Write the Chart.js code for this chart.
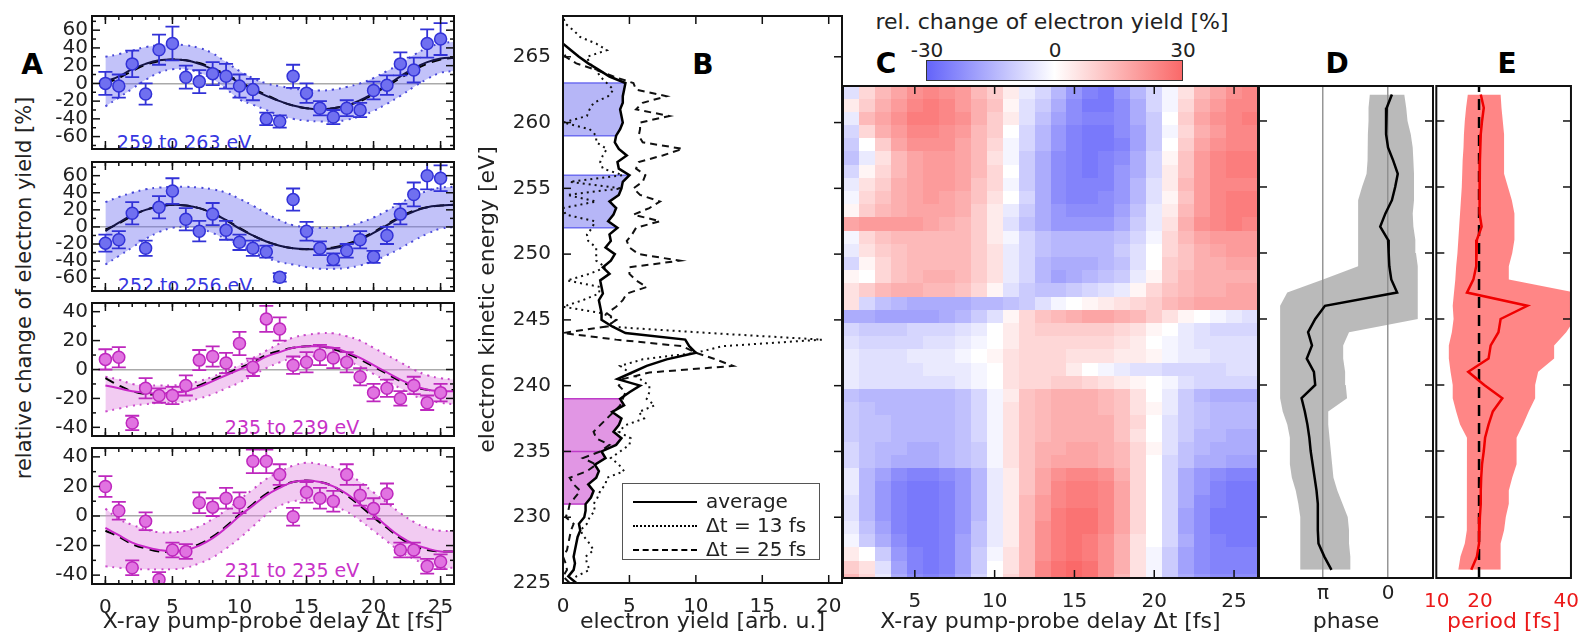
<!DOCTYPE html>
<html>
<head>
<meta charset="utf-8">
<script src="https://cdn.jsdelivr.net/npm/chart.js@4.4.1/dist/chart.umd.min.js"></script>
<style>
body { margin:0; background:#fff; width:1583px; height:635px; position:relative; overflow:hidden; font-family:'DejaVu Sans', sans-serif; color:#222; }
canvas { position:absolute; }
.t { position:absolute; transform:translate(-50%,-50%); white-space:nowrap; line-height:1; }
.big { font-weight:bold; font-size:28px; color:#000; }
.lg { position:absolute; left:622px; top:483px; width:196px; height:75px; border:1.5px solid #555; background:#fff; font-size:20px; }
.lg div { position:absolute; left:10px; height:0; width:64px; border-top:2.5px solid #000; }
.lg span { position:absolute; left:83px; }
</style>
</head>
<body>
<div class="t big" style="left:32px;top:65px">A</div>
<div class="t big" style="left:703px;top:65px">B</div>
<div class="t big" style="left:886px;top:64px">C</div>
<div class="t big" style="left:1337px;top:64px">D</div>
<div class="t big" style="left:1507px;top:64px">E</div>
<div class="t" style="left:24px;top:288px;font-size:21px;transform:translate(-50%,-50%) rotate(-90deg)">relative change of electron yield [%]</div>
<div class="t" style="left:184px;top:142px;font-size:19px;color:rgb(55,55,225)">259 to 263 eV</div>
<div class="t" style="left:185px;top:285px;font-size:19px;color:rgb(55,55,225)">252 to 256 eV</div>
<div class="t" style="left:292px;top:427px;font-size:19px;color:rgb(200,50,200)">235 to 239 eV</div>
<div class="t" style="left:292px;top:570px;font-size:19px;color:rgb(200,50,200)">231 to 235 eV</div>
<div class="t" style="left:1052px;top:22px;font-size:22px">rel. change of electron yield [%]</div>
<div class="t" style="left:927px;top:50px;font-size:20px">-30</div>
<div class="t" style="left:1055px;top:50px;font-size:20px">0</div>
<div class="t" style="left:1183px;top:50px;font-size:20px">30</div>
<div style="position:absolute;left:926px;top:60px;width:255px;height:19px;border:1.5px solid #333;background:linear-gradient(to right,rgb(100,100,250),#fff,rgb(250,105,105))"></div>

<script>
// ---- panel A : relative change vs delay ----
const delayA = [0,1,2,3,4,5,6,7,8,9,10,11,12,13,14,15,16,17,18,19,20,21,22,23,24,25];
const fitT = [0,1,2,3,4,5,6,7,8,9,10,11,12,13,14,15,16,17,18,19,20,21,22,23,24,25,26];

const a1Val = [0,-3,22,-12,38,45,7,2,11,8,-3,-7,-40,-43,8,-11,-28,-38,-28,-30,-8,-2,22,15,45,50];
const a1Err = [13,13,15,12,17,19,13,13,13,14,13,12,7,7,13,11,8,8,9,8,10,11,13,14,16,18];
const a1Fit = [2,8,16,22,26,27,26,22,16,9,1,-7,-14,-20,-25,-28,-29,-28,-25,-19,-11,-2,8,17,24,28,29];
const a1Fit2 = [0,6,14,21,25,27,26,23,17,10,2,-6,-13,-20,-25,-28,-29,-28,-25,-20,-12,-3,6,15,22,27,29];
const a1Hi = [30,33,37,41,43,44,43,40,34,24,14,6,0,-3,-6,-7,-8,-7,-4,0,6,14,22,32,40,45,47];
const a1Lo = [-26,-16,-6,4,12,16,16,12,5,-6,-18,-24,-30,-36,-40,-42,-43,-43,-41,-37,-31,-23,-14,-4,5,12,14];

const a2Val = [-19,-15,16,-25,23,42,9,-5,15,-4,-18,-25,-29,-59,32,-5,-25,-38,-28,-15,-35,-10,15,38,60,57];
const a2Err = [10,10,13,9,13,15,13,12,13,11,9,9,7,5,13,11,8,7,8,10,7,10,12,14,16,15];
const a2Fit = [-5,5,14,20,24,26,25,22,16,8,-2,-10,-17,-22,-25,-26,-26,-25,-21,-15,-7,2,11,18,23,25,26];
const a2Fit2 = [-3,4,13,20,24,26,25,22,16,8,-1,-10,-17,-22,-25,-26,-25,-24,-20,-14,-6,3,12,19,23,25,26];
const a2Hi = [29,35,40,44,46,47,47,46,44,40,33,25,16,8,2,0,-1,-1,1,5,11,19,28,36,42,46,47];
const a2Lo = [-44,-34,-24,-14,-6,-1,0,-2,-7,-14,-21,-29,-36,-41,-44,-47,-49,-49,-48,-45,-40,-33,-25,-16,-8,-2,0];

const a3Val = [7,8.5,-37,-13,-18,-18,-11,6.5,9,4.5,18,1.5,35,28,3,5,10,8,5,-5,-16,-13,-20,-11,-23,-16];
const a3Err = [7,7,5,7,5,6,7,7,7,7,8,6,9,8,6,7,7,7,7,6,6,6,5,6,5,6];
const a3Fit = [-11,-13,-15,-16,-17,-16,-15,-12,-8,-4,0,4,9,12,15,16,16,15,12,8,3,-2,-7,-11,-14,-15,-15];
const a3Fit2 = [-6,-11,-15,-17,-17,-16,-14,-11,-7,-3,1,5,10,13,15,16,16,14,11,7,2,-3,-8,-12,-14,-15,-14];
const a3Hi = [-5,-7,-10,-11,-11,-11,-10,-8,-5,-1,3,8,13,18,22,24,25,25,23,20,15,10,5,0,-4,-6,-7];
const a3Lo = [-29,-27,-25,-24,-23,-23,-22,-20,-17,-13,-9,-4,1,5,8,9,9,8,6,2,-3,-8,-13,-18,-21,-23,-24];

const a4Val = [20,3.5,-35,-3.5,-43,-23,-24,9,6,12,9,37,37,28,-0.5,16,12,10,28,14,5,15,-23,-23,-34,-31];
const a4Err = [7,6,5,6,5,5,5,7,6,7,7,8,8,7,6,7,7,7,7,7,7,7,5,5,5,5];
const a4Fit = [-8,-13,-18,-21,-23,-24,-23,-20,-15,-8,0,7,14,19,23,24,23,20,15,8,1,-7,-14,-19,-22,-24,-24];
const a4Fit2 = [-10,-14,-19,-22,-24,-24,-22,-19,-14,-7,1,8,15,20,23,24,23,20,14,7,-1,-8,-15,-20,-23,-24,-24];
const a4Hi = [5,-2,-6,-9,-11,-11,-10,-7,-2,4,11,18,25,30,34,36,35,33,29,23,16,9,2,-4,-8,-10,-10];
const a4Lo = [-34,-35,-36,-36,-36,-36,-35,-32,-28,-22,-15,-7,1,7,10,11,10,7,3,-3,-10,-17,-24,-29,-33,-35,-35];

const tickAx = [0,5,10,15,20,25];
const minorAx = [0,1,2,3,4,5,6,7,8,9,10,11,12,13,14,15,16,17,18,19,20,21,22,23,24,25,26];
const tickA12 = [-60,-40,-20,0,20,40,60];
const minorA12 = [-70,-50,-30,-10,10,30,50,70];
const tickA34 = [-40,-20,0,20,40];
const minorA34 = [-30,-10,10,30];

// ---- panel B : spectra ----
const eB = [225,225.5,226,226.5,227,227.5,228,228.5,229,229.5,230,230.5,231,231.5,232,232.5,233,233.5,234,234.5,235,235.5,236,236.5,237,237.5,238,238.5,239,239.5,240,240.5,241,241.5,242,242.5,243,243.5,244,244.5,245,245.5,246,246.5,247,247.5,248,248.5,249,249.5,250,250.5,251,251.5,252,252.5,253,253.5,254,254.5,255,255.5,256,256.5,257,257.5,258,258.5,259,259.5,260,260.5,261,261.5,262,262.5,263,263.5,264,264.5,265,265.5,266,266.5,267,267.5,268];
const avgB = [1.0,0.4,0.8,0.9,0.8,0.9,1.0,1.1,1.3,1.2,
  1.6,1.7,1.7,2.1,2.3,1.9,2.5,2.7,2.4,3.2,
  2.9,4.0,4.4,3.8,4.2,4.4,3.7,4.6,4.3,5.0,
  5.8,4.1,5.2,6.3,7.8,10.0,9.5,9.2,4.7,3.7,
  2.9,2.9,2.8,2.7,3.0,2.9,2.8,3.5,3.0,3.6,
  3.9,3.2,3.6,3.5,4.1,3.4,3.8,4.0,3.5,4.2,
  4.4,4.5,5.0,4.2,4.1,4.8,4.2,3.9,4.0,4.3,
  4.5,4.4,4.3,4.5,4.5,4.6,4.7,3.5,2.7,1.9,
  1.2,0.6,0,null,null,null,null];
const d13B = [0.8,1.0,2.0,1.8,1.7,2.3,2.0,1.6,1.3,1.8,
  2.0,2.4,2.3,2.6,2.8,3.2,3.3,4.6,4.2,3.6,
  4.3,5.0,5.1,4.2,4.7,6.1,5.7,6.9,6.3,6.5,
  6.5,5.8,5.0,4.3,6.0,10.0,12.0,19.5,11.0,3.3,
  4.0,3.0,0.0,1.5,2.7,2.8,0.3,2.0,3.2,2.5,
  2.5,2.5,1.9,1.8,2.2,2.4,0.2,0.0,2.5,0.3,
  4.4,0.5,4.5,3.0,2.8,3.0,3.3,2.5,2.5,2.0,
  0.0,1.8,2.0,2.3,3.4,3.8,3.3,2.8,2.5,2.0,
  1.8,3.3,2.5,1.3,0.8,0.2,0.0];
const d25B = [0.5,0.0,0.3,0.2,0.0,0.3,0.4,0.5,0.6,0.8,
  0.2,0.4,0.5,0.9,1.3,0.8,0.5,1.8,2.5,1.5,
  2.8,3.5,2.5,2.3,2.8,3.3,3.8,4.3,4.5,4.7,
  4.2,4.5,6.5,12.8,11.5,10.0,9.0,4.0,0.0,3.3,
  4.0,3.3,4.0,4.5,4.8,6.3,5.5,5.0,5.0,8.8,
  5.7,5.0,4.8,5.2,5.5,7.3,5.3,6.5,7.3,5.8,
  5.3,6.0,6.2,5.5,5.7,7.5,9.0,6.0,5.7,5.8,
  5.8,8.0,5.5,6.0,7.8,5.5,5.3,3.8,2.5,1.0,
  0.2,0.0,null,null,null,null,null];
const bandLoB = [259,252,231];
const bandHiB = [263,256,239];
const bandSplitB = [235];
const tickBx = [0,5,10,15,20];
const tickBy = [225,230,235,240,245,250,255,260,265];

// ---- panel C : map of relative change (rows top to bottom) ----
const heatDelay = [1,2,3,4,5,6,7,8,9,10,11,12,13,14,15,16,17,18,19,20,21,22,23,24,25,26];
const heatE = [262.2,261.2,260.2,259.2,258.2,257.2,256.2,255.2,254.2,253.2,252.2,251.2,250.2,249.2,248.2,247.2,246.2,245.2,244.2,243.2,242.2,241.2,240.2,239.2,238.2,237.2,236.2,235.2,234.2,233.2,232.2,231.2,230.2,229.2,228.2,227.2,226.2,225.2];
const heatRows = [
  [-6,8,14,18,22,24,22,20,14,10,4,-4,-8,-14,-20,-24,-26,-20,-14,-8,-2,6,14,18,22,24],
  [4,10,16,20,24,26,24,20,16,12,2,-6,-10,-16,-22,-26,-26,-22,-16,-8,-2,8,16,20,24,24],
  [-4,14,18,22,26,26,24,22,16,10,4,-6,-12,-18,-22,-24,-24,-22,-16,-10,0,10,18,22,24,26],
  [-8,8,16,20,24,24,22,20,14,10,0,-8,-14,-20,-24,-26,-26,-22,-18,-10,-2,8,16,20,24,24],
  [-10,0,10,18,22,22,22,18,14,8,-2,-8,-14,-20,-24,-26,-26,-24,-18,-10,0,10,18,22,24,24],
  [-12,-4,6,14,18,20,20,18,14,6,-2,-10,-16,-22,-24,-26,-24,-22,-16,-8,2,12,20,24,26,26],
  [-8,2,8,14,18,20,20,18,14,8,0,-10,-16,-22,-24,-26,-24,-20,-16,-8,4,12,20,24,26,26],
  [-4,6,10,16,18,20,20,18,12,8,-2,-10,-16,-22,-24,-24,-24,-20,-14,-6,4,14,20,24,24,24],
  [-2,8,12,16,18,20,18,16,12,6,0,-8,-16,-22,-24,-24,-22,-20,-14,-6,2,12,20,24,26,26],
  [2,10,14,16,18,18,18,16,10,4,-4,-10,-16,-20,-22,-22,-22,-18,-12,-4,4,14,20,24,26,26],
  [18,20,20,20,20,18,16,14,10,4,-6,-12,-16,-20,-20,-20,-20,-16,-10,-4,6,16,22,24,26,24],
  [-2,8,12,14,14,14,14,14,10,4,-2,-8,-12,-14,-14,-14,-14,-12,-8,-2,8,14,18,20,20,20],
  [-4,6,10,12,14,14,14,14,10,6,-4,-8,-12,-14,-14,-14,-14,-10,-6,0,8,12,16,18,20,20],
  [-8,2,8,12,14,14,14,14,10,6,-4,-8,-14,-16,-16,-16,-14,-12,-6,0,10,12,16,16,18,18],
  [2,0,8,12,14,16,16,14,10,6,-4,-8,-14,-18,-16,-14,-12,-10,-4,2,10,14,16,16,16,16],
  [6,10,14,16,16,14,14,12,8,2,-6,-10,-12,-12,-10,-8,-6,-4,2,8,12,14,16,16,18,18],
  [6,-8,-12,-14,-16,-16,-16,-16,-14,-14,-12,-10,-6,-2,0,2,4,6,8,10,14,16,18,18,18,18],
  [-16,-16,-18,-18,-18,-18,-16,-14,-10,-6,2,8,12,14,16,18,18,16,14,10,6,2,0,-2,-4,-6],
  [-8,-10,-10,-10,-8,-8,-8,-6,-4,0,4,8,10,10,10,10,10,8,6,2,0,-4,-6,-8,-8,-8],
  [-6,-8,-8,-8,-8,-6,-6,-4,-2,0,4,8,8,8,8,8,8,6,4,0,-2,-4,-6,-6,-6,-6],
  [-4,-6,-6,-6,-4,-4,-4,-2,0,2,6,8,8,8,6,6,6,4,4,2,-2,-4,-4,-6,-6,-6],
  [-4,-6,-6,-6,-6,-4,-4,-4,-2,0,6,8,8,8,4,0,-2,-4,-6,-6,-8,-8,-8,-8,-6,-6],
  [-4,-6,-6,-6,-6,-6,-6,-4,-2,0,6,8,8,10,10,8,6,4,2,0,-2,-6,-8,-8,-8,-8],
  [-12,-14,-14,-14,-14,-14,-14,-12,-8,-2,4,12,14,16,16,16,14,12,6,0,-4,-10,-14,-16,-16,-16],
  [-10,-12,-14,-14,-14,-14,-14,-12,-8,-2,6,12,14,16,16,16,14,12,6,2,-4,-10,-12,-14,-14,-14],
  [-10,-12,-12,-14,-14,-14,-14,-12,-8,-2,6,12,14,16,16,16,16,12,8,0,-6,-10,-12,-14,-14,-14],
  [-10,-12,-12,-14,-14,-14,-14,-12,-8,-2,6,12,14,16,16,16,16,12,6,0,-6,-10,-14,-14,-16,-16],
  [-8,-12,-14,-14,-16,-16,-14,-12,-10,-2,6,12,16,16,18,18,16,14,8,2,-6,-12,-14,-16,-16,-16],
  [-8,-12,-14,-16,-16,-16,-14,-12,-10,-2,6,12,16,18,18,18,16,14,8,0,-8,-12,-16,-16,-18,-18],
  [-4,-14,-18,-22,-24,-24,-22,-20,-14,-4,4,12,18,22,24,24,22,16,8,0,-8,-16,-20,-22,-24,-24],
  [-4,-14,-20,-24,-26,-26,-24,-20,-14,-4,4,12,18,24,26,26,24,18,8,0,-8,-16,-20,-24,-26,-26],
  [-6,-14,-20,-24,-26,-26,-24,-20,-14,-4,4,14,20,24,26,26,24,18,8,0,-8,-16,-22,-24,-26,-26],
  [-6,-14,-20,-24,-26,-26,-24,-20,-14,-4,4,14,20,26,28,28,24,18,8,0,-8,-18,-22,-26,-26,-26],
  [-4,-12,-18,-24,-26,-26,-24,-20,-12,-4,4,14,22,26,28,28,24,18,8,0,-8,-18,-22,-26,-26,-26],
  [-2,-10,-16,-22,-26,-26,-24,-18,-12,-4,4,14,22,26,28,26,22,16,6,0,-8,-16,-22,-24,-26,-26],
  [4,0,-10,-20,-24,-26,-24,-18,-10,-2,6,14,22,26,28,26,22,16,6,-2,-10,-18,-22,-24,-24,-24],
  [10,6,-6,-18,-24,-26,-24,-18,-10,0,6,14,24,28,30,28,22,16,6,-2,-10,-18,-22,-24,-24,-24],
  [14,8,-4,-16,-22,-24,-22,-16,-8,0,8,14,24,28,30,28,22,14,6,-2,-10,-16,-20,-22,-22,-22]
];
const tickC = [5,10,15,20,25];

// ---- panels D and E : phase and period per energy ----
const eDE = [262,261,260,259,258,257,256,255,254,253,252,251,250,249,248,247,246,245,244,243,242,241,240,239,238,237,236,235,234,233,232,231,230,229,228,227,226];
const phaseD = [-0.06,0.02,0.03,0.03,0.0,-0.08,-0.15,-0.11,-0.06,0.04,0.12,0.0,-0.01,-0.02,-0.05,-0.14,0.97,1.12,1.23,1.17,1.25,1.14,1.12,1.33,1.28,1.24,1.21,1.19,1.16,1.13,1.1,1.08,1.08,1.08,1.07,0.98,0.87];
const phaseHiD = [0.28,0.3,0.3,0.31,0.31,0.32,0.33,0.4,0.46,0.46,0.46,0.46,0.46,0.46,1.0,1.55,1.66,1.66,1.66,1.66,1.66,1.66,1.66,1.66,1.62,1.55,1.51,1.51,1.51,1.48,1.42,1.38,1.35,1.35,1.35,1.35,1.35];
const phaseLoD = [-0.25,-0.28,-0.3,-0.35,-0.38,-0.39,-0.4,-0.4,-0.4,-0.38,-0.39,-0.42,-0.43,-0.45,-0.46,-0.46,-0.46,-0.46,0.6,0.69,0.69,0.66,0.65,0.63,0.92,0.92,0.9,0.88,0.86,0.84,0.78,0.7,0.62,0.6,0.6,0.58,0.58];
const phaseTicks = [1,0];
const phaseTickLabels = ['π','0'];
const periodE = [20.2,20.9,20.5,20.2,20.1,20.0,20.0,19.9,19.8,20.0,20.4,19.3,19.2,19.1,18.5,17.0,31.0,24.8,24.3,22.5,22.0,17.3,21.0,25.2,23.0,22.0,21.2,20.9,20.5,20.3,20.2,20.2,20.0,19.8,19.8,19.3,18.0];
const periodLoE = [17.2,16.8,16.5,16.3,16.2,16.0,15.9,15.8,15.6,15.4,15.2,15.0,14.8,14.5,14.3,14.0,13.7,13.9,13.5,12.8,12.8,13.2,13.7,13.7,14.5,15.4,17.0,17.0,17.0,17.0,17.0,17.0,17.0,16.8,16.5,15.5,15.0];
const periodHiE = [24.8,25.0,25.3,25.6,25.6,25.6,25.6,26.5,27.4,28.0,28.0,28.0,27.5,26.7,26.7,42,42,42,40,37.2,37.2,33.5,32.8,32.8,31.3,30.0,28.5,28.5,28.5,27.5,26.7,26.7,26.0,25.6,24.8,24.8,24.8];
const periodRef = 19.8;
const tickE = [10,20,40];
const tickDEy = [230,235,240,245,250,255,260];

// ---------------------------------------------------------------
Chart.defaults.font.family = "'DejaVu Sans', sans-serif";
Chart.defaults.font.size = 20;
Chart.defaults.color = '#222';

// inward ticks + black frame round each plot
const frameTicks = {
  id: 'frameTicks',
  afterDatasetsDraw(chart, args, o) {
    const {ctx, chartArea: a} = chart;
    const xs = chart.scales.x, ys = chart.scales.y;
    ctx.save();
    ctx.strokeStyle = '#111';
    ctx.lineWidth = 1.5;
    const side = (vals, len, s) => {
      (vals || []).forEach(v => {
        ctx.beginPath();
        if (s === 'top' || s === 'bottom') {
          const p = xs.getPixelForValue(v);
          if (p < a.left + 1 || p > a.right - 1) return;
          const y0 = s === 'top' ? a.top : a.bottom;
          ctx.moveTo(p, y0); ctx.lineTo(p, y0 + (s === 'top' ? len : -len));
        } else {
          const p = ys.getPixelForValue(v);
          if (p < a.top + 1 || p > a.bottom - 1) return;
          const x0 = s === 'left' ? a.left : a.right;
          ctx.moveTo(x0, p); ctx.lineTo(x0 + (s === 'left' ? len : -len), p);
        }
        ctx.stroke();
      });
    };
    ['top', 'bottom', 'left', 'right'].forEach(s => { side(o[s], 8, s); side(o[s + 'Minor'], 4, s); });
    ctx.lineWidth = 2;
    ctx.strokeRect(a.left, a.top, a.width, a.height);
    ctx.restore();
  }
};

// error bars of a dataset, drawn just below its points
const errorBars = {
  id: 'errorBars',
  beforeDatasetDraw(chart, args) {
    const ds = chart.data.datasets[args.index];
    if (!ds.err) return;
    const {ctx, chartArea: a} = chart;
    const y = chart.scales.y;
    ctx.save();
    ctx.beginPath(); ctx.rect(a.left, a.top, a.width, a.height); ctx.clip();
    ctx.strokeStyle = ds.errColor;
    ctx.lineWidth = 1.8;
    args.meta.data.forEach((pt, i) => {
      const v = ds.data[i].y, e = ds.err[i];
      const y0 = y.getPixelForValue(v + e), y1 = y.getPixelForValue(v - e);
      ctx.beginPath();
      ctx.moveTo(pt.x, y0); ctx.lineTo(pt.x, y1);
      ctx.moveTo(pt.x - 7, y0); ctx.lineTo(pt.x + 7, y0);
      ctx.moveTo(pt.x - 7, y1); ctx.lineTo(pt.x + 7, y1);
      ctx.stroke();
    });
    ctx.restore();
  }
};
Chart.register(frameTicks, errorBars);

function heatColor(v) {
  const f = Math.min(Math.abs(v) / 30, 1);
  if (v < 0) return 'rgb(' + Math.round(255 - 155 * f) + ',' + Math.round(255 - 155 * f) + ',' + Math.round(255 - 5 * f) + ')';
  return 'rgb(' + Math.round(255 - 5 * f) + ',' + Math.round(255 - 150 * f) + ',' + Math.round(255 - 150 * f) + ')';
}

function mk(box) {
  const c = document.createElement('canvas');
  c.width = box[2]; c.height = box[3];
  c.style.left = box[0] + 'px'; c.style.top = box[1] + 'px';
  document.body.appendChild(c);
  return c;
}
const setTicks = vals => s => { s.ticks = vals.map(v => ({value: v})); };

// box = canvas [left, top, width, height], area = plot [left, top, right, bottom]
function fixAxes(opts, box, area) {
  opts.layout = {padding: {left: 0, top: area[1] - box[1], right: box[0] + box[2] - area[2], bottom: 0}};
  opts.scales.y.afterFit = s => { s.width = area[0] - box[0]; };
  opts.scales.x.afterFit = s => { s.height = box[1] + box[3] - area[3]; };
  return opts;
}
function base() {
  return {responsive: false, animation: false, events: [], plugins: {legend: {display: false}, tooltip: {enabled: false}}};
}

// ---------------- panel A ----------------
const blue = {pt: 'rgb(112,112,240)', edge: 'rgb(50,50,215)', band: 'rgba(110,110,240,0.42)', dot: 'rgb(70,70,215)', fit: 'rgb(20,20,70)'};
const mag = {pt: 'rgb(225,115,225)', edge: 'rgb(190,40,190)', band: 'rgba(225,130,225,0.42)', dot: 'rgb(200,70,200)', fit: 'rgb(200,40,200)'};
const panelsA = [
  {val: a1Val, err: a1Err, fit: a1Fit, fit2: a1Fit2, hi: a1Hi, lo: a1Lo, col: blue, yr: [-74, 76], yt: tickA12, ym: minorA12, box: [0, 0, 470, 165], area: [92, 13, 454, 155]},
  {val: a2Val, err: a2Err, fit: a2Fit, fit2: a2Fit2, hi: a2Hi, lo: a2Lo, col: blue, yr: [-75, 76], yt: tickA12, ym: minorA12, box: [0, 146, 470, 161], area: [92, 156, 454, 297]},
  {val: a3Val, err: a3Err, fit: a3Fit, fit2: a3Fit2, hi: a3Hi, lo: a3Lo, col: mag, yr: [-46, 46], yt: tickA34, ym: minorA34, box: [0, 287, 470, 165], area: [92, 297, 454, 442]},
  {val: a4Val, err: a4Err, fit: a4Fit, fit2: a4Fit2, hi: a4Hi, lo: a4Lo, col: mag, yr: [-46, 46], yt: tickA34, ym: minorA34, box: [0, 432, 470, 203], area: [92, 442, 454, 584], last: true}
];
panelsA.forEach(p => {
  const curve = arr => fitT.map((t, i) => ({x: t, y: arr[i]}));
  const opts = base();
  opts.plugins.frameTicks = {top: tickAx, bottom: tickAx, topMinor: minorAx, bottomMinor: minorAx, left: p.yt, right: p.yt, leftMinor: p.ym, rightMinor: p.ym};
  opts.scales = {
    x: {type: 'linear', min: -1, max: 26, grid: {display: false}, border: {display: false},
      afterBuildTicks: setTicks(tickAx),
      ticks: {display: !!p.last, autoSkip: false, maxRotation: 0, padding: 4, callback: v => String(v)},
      title: {display: !!p.last, text: 'X-ray pump-probe delay Δt [fs]', font: {size: 22}, padding: {top: 0, bottom: 0}}},
    y: {type: 'linear', min: p.yr[0], max: p.yr[1], border: {display: false},
      grid: {drawTicks: false, lineWidth: 1.5, color: c => (c.tick && c.tick.value === 0) ? 'rgb(170,170,170)' : 'rgba(0,0,0,0)'},
      afterBuildTicks: setTicks(p.yt),
      ticks: {autoSkip: false, padding: 4, callback: v => String(v)}}
  };
  fixAxes(opts, p.box, p.area);
  new Chart(mk(p.box), {
    type: 'line',
    data: {datasets: [
      {data: delayA.map((t, i) => ({x: t, y: p.val[i]})), err: p.err, errColor: p.col.edge, showLine: false,
        pointRadius: 6, pointBackgroundColor: p.col.pt, pointBorderColor: p.col.edge, pointBorderWidth: 1.5, order: 0},
      {data: curve(p.fit), borderColor: p.col.fit, borderWidth: 2, pointRadius: 0, tension: 0.4, order: 1},
      {data: curve(p.fit2), borderColor: '#000', borderWidth: 2, borderDash: [10, 6], pointRadius: 0, tension: 0.4, order: 1},
      {data: curve(p.hi), borderColor: p.col.dot, borderWidth: 2, borderDash: [2, 5], pointRadius: 0, tension: 0.4,
        fill: '+1', backgroundColor: p.col.band, order: 2},
      {data: curve(p.lo), borderColor: p.col.dot, borderWidth: 2, borderDash: [2, 5], pointRadius: 0, tension: 0.4, fill: false, order: 2}
    ]},
    options: opts
  });
});

// ---------------- panel B ----------------
(function () {
  const box = [470, 0, 380, 635], area = [563, 14, 842, 583];
  const line = arr => eB.map((e, i) => ({x: arr[i], y: e}));
  const avgAt = e => avgB[eB.indexOf(e)];
  const bandCol = ['rgba(110,110,240,0.5)', 'rgba(110,110,240,0.5)', 'rgba(205,80,210,0.6)'];
  const edgeCol = ['rgb(110,110,240)', 'rgb(110,110,240)', 'rgb(190,60,200)'];
  const fills = bandLoB.map((lo, k) => ({
    data: line(avgB).filter(pt => pt.y >= lo && pt.y <= bandHiB[k]),
    fill: 'origin', backgroundColor: bandCol[k], borderColor: 'rgba(0,0,0,0)', borderWidth: 0, pointRadius: 0, order: 3
  }));
  // thin lines along the band edges, from the axis to the average curve
  const edge = (e, c) => ({data: [{x: 0, y: e}, {x: avgAt(e), y: e}], borderColor: c, borderWidth: 1.5, pointRadius: 0, order: 2});
  const edges = [];
  bandLoB.forEach((lo, k) => { edges.push(edge(lo, edgeCol[k])); edges.push(edge(bandHiB[k], edgeCol[k])); });
  bandSplitB.forEach(e => edges.push(edge(e, edgeCol[2])));
  const opts = base();
  opts.indexAxis = 'y';
  opts.plugins.frameTicks = {top: tickBx, bottom: tickBx, left: tickBy, right: tickBy};
  opts.scales = {
    x: {type: 'linear', min: 0, max: 21, grid: {display: false}, border: {display: false},
      afterBuildTicks: setTicks(tickBx),
      ticks: {autoSkip: false, maxRotation: 0, padding: 4, callback: v => String(v)},
      title: {display: true, text: 'electron yield [arb. u.]', font: {size: 22}, padding: {top: 0, bottom: 0}}},
    y: {type: 'linear', min: 225, max: 268.1, grid: {display: false}, border: {display: false},
      afterBuildTicks: setTicks(tickBy),
      ticks: {autoSkip: false, padding: 4, callback: v => String(v)},
      title: {display: true, text: 'electron kinetic energy [eV]', font: {size: 22}, padding: {top: 5, bottom: 0}}}
  };
  fixAxes(opts, box, area);
  new Chart(mk(box), {
    type: 'line',
    data: {datasets: [
      {data: line(avgB), borderColor: '#000', borderWidth: 2.5, pointRadius: 0, order: 0},
      {data: line(d13B), borderColor: '#111', borderWidth: 2, borderDash: [2, 4], pointRadius: 0, order: 1},
      {data: line(d25B), borderColor: '#111', borderWidth: 2, borderDash: [7, 5], pointRadius: 0, order: 1}
    ].concat(edges, fills)},
    options: opts
  });
})();

// ---------------- panel C ----------------
(function () {
  const box = [835, 80, 430, 555], area = [843, 86, 1258, 578];
  const heat = {
    id: 'heat',
    beforeDatasetsDraw(chart) {
      const {ctx, chartArea: a, scales: {x, y}} = chart;
      ctx.save();
      ctx.beginPath(); ctx.rect(a.left, a.top, a.width, a.height); ctx.clip();
      heatRows.forEach((row, r) => {
        const y0 = Math.round(y.getPixelForValue(heatE[r] + 0.5));
        const y1 = Math.round(y.getPixelForValue(heatE[r] - 0.5));
        row.forEach((v, c) => {
          const x0 = Math.round(x.getPixelForValue(heatDelay[c] - 0.5));
          const x1 = Math.round(x.getPixelForValue(heatDelay[c] + 0.5));
          ctx.fillStyle = heatColor(v);
          ctx.fillRect(x0, y0, x1 - x0, y1 - y0);
        });
      });
      ctx.restore();
    }
  };
  const opts = base();
  opts.plugins.frameTicks = {top: tickC, bottom: tickC};
  opts.scales = {
    x: {type: 'linear', min: 0.5, max: 26.5, grid: {display: false}, border: {display: false},
      afterBuildTicks: setTicks(tickC),
      ticks: {autoSkip: false, maxRotation: 0, padding: 4, callback: v => String(v)},
      title: {display: true, text: 'X-ray pump-probe delay Δt [fs]', font: {size: 22}, padding: {top: 0, bottom: 0}}},
    y: {type: 'linear', min: 225.38, max: 262.65, grid: {display: false}, border: {display: false}, ticks: {display: false}}
  };
  fixAxes(opts, box, area);
  new Chart(mk(box), {type: 'scatter', data: {datasets: [{data: []}]}, options: opts, plugins: [heat]});
})();

// ---------------- panel D ----------------
(function () {
  const box = [1250, 80, 190, 555], area = [1259, 86, 1433, 578];
  const pts = arr => eDE.map((e, i) => ({x: arr[i], y: e}));
  const opts = base();
  opts.indexAxis = 'y';
  opts.plugins.frameTicks = {left: tickDEy, right: tickDEy};
  opts.scales = {
    x: {type: 'linear', reverse: true, min: -0.692, max: 1.985, border: {display: false},
      grid: {drawTicks: false, color: 'rgb(150,150,150)', lineWidth: 1.5},
      afterBuildTicks: setTicks(phaseTicks),
      ticks: {autoSkip: false, maxRotation: 0, padding: 4, callback: (v, i) => phaseTickLabels[i]},
      title: {display: true, text: 'phase', font: {size: 22}, padding: {top: 0, bottom: 0}}},
    y: {type: 'linear', min: 225.38, max: 262.65, grid: {display: false}, border: {display: false}, ticks: {display: false}}
  };
  fixAxes(opts, box, area);
  new Chart(mk(box), {
    type: 'line',
    data: {datasets: [
      {data: pts(phaseD), borderColor: '#000', borderWidth: 2.5, pointRadius: 0, order: 0},
      {data: pts(phaseHiD), borderColor: 'rgba(0,0,0,0)', borderWidth: 0, pointRadius: 0, fill: '+1', backgroundColor: 'rgba(140,140,140,0.6)', order: 2},
      {data: pts(phaseLoD), borderColor: 'rgba(0,0,0,0)', borderWidth: 0, pointRadius: 0, order: 2}
    ]},
    options: opts
  });
})();

// ---------------- panel E ----------------
(function () {
  const box = [1420, 80, 163, 555], area = [1433, 86, 1578, 578];
  const pts = arr => eDE.map((e, i) => ({x: arr[i], y: e}));
  const red = 'rgb(235,25,25)';
  const opts = base();
  opts.indexAxis = 'y';
  opts.plugins.frameTicks = {left: tickDEy, right: tickDEy};
  opts.scales = {
    x: {type: 'linear', min: 9.9, max: 41.1, grid: {display: false}, border: {display: false},
      afterBuildTicks: setTicks(tickE),
      ticks: {autoSkip: false, maxRotation: 0, padding: 4, color: red, callback: v => String(v)},
      title: {display: true, text: 'period [fs]', color: red, font: {size: 22}, padding: {top: 0, bottom: 0}}},
    y: {type: 'linear', min: 225.38, max: 262.65, grid: {display: false}, border: {display: false}, ticks: {display: false}}
  };
  fixAxes(opts, box, area);
  new Chart(mk(box), {
    type: 'line',
    data: {datasets: [
      {data: pts(periodE), borderColor: 'rgb(240,0,0)', borderWidth: 2.5, pointRadius: 0, order: 0},
      {data: [{x: periodRef, y: 225.38}, {x: periodRef, y: 262.65}], borderColor: '#000', borderWidth: 2.5, borderDash: [11, 7], pointRadius: 0, order: 1},
      {data: pts(periodLoE), borderColor: 'rgba(0,0,0,0)', borderWidth: 0, pointRadius: 0, fill: '+1', backgroundColor: 'rgba(255,60,60,0.62)', order: 2},
      {data: pts(periodHiE), borderColor: 'rgba(0,0,0,0)', borderWidth: 0, pointRadius: 0, order: 2}
    ]},
    options: opts
  });
})();
</script>

<div class="lg">
  <div style="top:17px"></div><span style="top:5px">average</span>
  <div style="top:41px;border-top-style:dotted"></div><span style="top:29px">Δt = 13 fs</span>
  <div style="top:65px;border-top-style:dashed"></div><span style="top:53px">Δt = 25 fs</span>
</div>
</body>
</html>
